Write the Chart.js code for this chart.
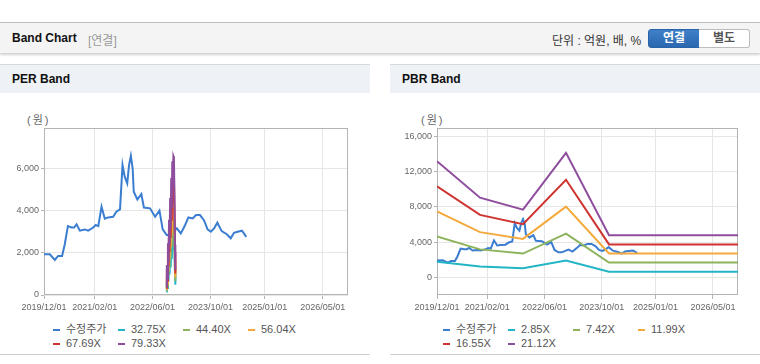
<!DOCTYPE html>
<html lang="ko">
<head>
<meta charset="UTF-8">
<title>Band Chart</title>
<style>
    body { margin: 0; width: 760px; height: 364px; background: #fff; position: relative; overflow: hidden;
           font-family: "Liberation Sans", "Noto Sans CJK KR", sans-serif; }
    .top { position: absolute; left: 0; top: 22px; width: 760px; height: 30px; background: #f4f4f4;
           border-top: 1px solid #bdbdbd; box-shadow: 0 2px 2px rgba(0,0,0,0.18); }
    .ttl { position: absolute; left: 12px; top: 8px; font-size: 12px; font-weight: bold; color: #111; }
    .sub { position: absolute; left: 88px; top: 8px; font-size: 12px; color: #999; }
    .unit { position: absolute; left: 552px; top: 8px; font-size: 12px; color: #333; }
    .btn { position: absolute; top: 6px; height: 17px; width: 50px; font-size: 12px; font-weight: bold;
           text-align: center; line-height: 17px; border: 1px solid #bcbcbc; }
    .btn.on { left: 648px; background: linear-gradient(#3f80c8, #2a68b0); color: #fff; border-color: #2a63a8;
              border-radius: 3px 0 0 3px; }
    .btn.off { left: 699px; background: #fff; color: #555; border-left: none; border-radius: 0 3px 3px 0; }
    .panel { position: absolute; top: 64px; width: 370px; height: 289px; border-top: 1px solid #d8d8d8;
             border-bottom: 1px solid #cfcfcf; }
    .phead { height: 28px; background: #eef1f6; }
    .phead span { position: absolute; left: 12px; top: 7px; font-size: 12px; font-weight: bold; color: #111; }
    .won { position: absolute; top: 111px; font-size: 11px; color: #666; letter-spacing: 2px; }
    .box { position: absolute; top: 92px; }
    .legend { position: absolute; top: 323px; width: 270px; font-size: 11px; color: #555; line-height: 13.5px; }
    .legend div { display: inline-block; width: 65px; white-space: nowrap; }
    .legend i { display: inline-block; width: 7px; height: 2px; margin-right: 6px; vertical-align: middle; }
</style>
</head>
<body>
    <div class="top">
        <span class="ttl">Band Chart</span><span class="sub">[연결]</span>
        <span class="unit">단위 : 억원, 배, %</span>
        <div class="btn on">연결</div><div class="btn off">별도</div>
    </div>

    <div class="panel" style="left:0"><div class="phead"><span>PER Band</span></div></div>
    <div class="panel" style="left:390px"><div class="phead"><span>PBR Band</span></div></div>

    <div class="won" style="left:27px">(원)</div>
    <div class="won" style="left:421px">(원)</div>

    <div class="box" style="left:0"><canvas id="perChart" width="370" height="226"></canvas></div>
    <div class="box" style="left:390px"><canvas id="pbrChart" width="370" height="226"></canvas></div>

    <div class="legend" id="perLegend" style="left:53px"></div>
    <div class="legend" id="pbrLegend" style="left:443px"></div>

<script src="https://cdn.jsdelivr.net/npm/chart.js"></script>
<script>
    // x values are months counted from 2019/12/01
    const tickMonths = [0, 14, 30, 46, 61, 77];
    const tickLabels = ['2019/12/01', '2021/02/01', '2022/06/01', '2023/10/01', '2025/01/01', '2026/05/01'];

    const stockMonths = [0, 1.6, 3, 3.9, 5, 5.7, 6.6, 7.6, 8.3, 9, 9.9, 11.3, 12.2, 13.6, 14.3, 15, 15.9, 16.8,
        17.7, 19.1, 20, 21, 21.7, 22.3, 23, 23.5, 24, 24.5, 24.8, 25.8, 26.9, 27.6, 29.3, 30.7, 31.9, 32.8,
        33.9, 34.8, 35.8, 36.7, 37.8, 39, 39.9, 41.1, 42, 43.1, 44.2, 45.2, 46.1, 47, 47.9, 49.1, 50.5,
        51.6, 52.5, 53.5, 54.7, 55.9];
    const stockPrice = [1927, 1930, 1660, 1850, 1850, 2370, 3270, 3200, 3200, 3350, 3050, 3110, 3050, 3200,
        3320, 3270, 4190, 3620, 3680, 3710, 3950, 4060, 6160, 5610, 5290, 6160, 6600, 6000, 4900, 4530, 4790,
        4150, 4110, 3710, 4000, 3110, 2840, 2840, 3000, 3160, 2920, 3320, 3680, 3630, 3790, 3790, 3550, 3110,
        3000, 3160, 3430, 3030, 2880, 2690, 2950, 3000, 3050, 2760];

    // PER band
    const perNames = ['32.75X', '44.40X', '56.04X', '67.69X', '79.33X'];
    const perMonths = [33.8, 33.95, 34.1, 34.25, 34.4, 34.55, 34.7, 34.85, 35.0, 35.15, 35.3, 35.45, 35.6,
        35.75, 35.9, 36.05, 36.2, 36.3];
    const per1 = [164, 590, 328, 1015, 655, 1474, 983, 1900, 1310, 2293, 1703, 2620, 2129, 2718, 2686, 1965, 983, 491];
    const per2 = [222, 799, 444, 1376, 888, 1998, 1332, 2575, 1776, 3108, 2309, 3552, 2886, 3685, 3641, 2664, 1332, 666];
    const per3 = [280, 1009, 560, 1737, 1121, 2522, 1681, 3250, 2242, 3923, 2914, 4483, 3643, 4651, 4595, 3362, 1681, 841];
    const per4 = [338, 1218, 677, 2098, 1354, 3046, 2031, 3926, 2708, 4738, 3520, 5415, 4400, 5618, 5551, 4061, 2031, 1015];
    const per5 = [397, 1428, 793, 2459, 1587, 3570, 2380, 4601, 3173, 5553, 4125, 6346, 5156, 6584, 6505, 4760, 2380, 1190];

    // PBR band
    const pbrNames = ['2.85X', '7.42X', '11.99X', '16.55X', '21.12X'];
    const pbrMonths = [0, 12, 24, 36, 48, 84];
    const pbr1 = [1778, 1220, 1037, 1907, 644, 644];
    const pbr2 = [4630, 3176, 2701, 4964, 1677, 1677];
    const pbr3 = [7482, 5132, 4364, 8021, 2710, 2710];
    const pbr4 = [10327, 7083, 6024, 11072, 3740, 3740];
    const pbr5 = [13179, 9039, 7688, 14129, 4773, 4773];

    const stockName = '수정주가';
    const colors = ['#3b7dd0', '#22b5c5', '#8db45c', '#f3a93c', '#cf3330', '#8e4d9d'];

    const frame = {
        id: 'frame',
        beforeDatasetsDraw(chart) {
            const a = chart.chartArea, c = chart.ctx;
            c.save();
            c.strokeStyle = '#b4b4b4';
            c.lineWidth = 1;
            c.strokeRect(a.left + 0.5, a.top + 0.5, a.right - a.left - 1, a.bottom - a.top - 1);
            c.restore();
        }
    };

    function pts(xs, ys) {
        return xs.map((x, i) => ({ x: x, y: ys[i] }));
    }

    function line(label, data, color, order) {
        return { label: label, data: data, borderColor: color, backgroundColor: color, borderWidth: 2,
                 pointRadius: 0, tension: 0, order: order };
    }

    function draw(id, bandMonths, bands, names, yTicks, yMin, yMax, yWidth) {
        // stock line at the back, later bands drawn over earlier ones
        const datasets = [line(stockName, pts(stockMonths, stockPrice), colors[0], 10)];
        bands.forEach((b, i) => datasets.push(line(names[i], pts(bandMonths, b), colors[i + 1], 5 - i)));

        new Chart(document.getElementById(id), {
            type: 'line',
            data: { datasets: datasets },
            plugins: [frame],
            options: {
                responsive: false,
                animation: false,
                layout: { padding: { top: 36, right: 22, left: 0, bottom: 0 } },
                plugins: { legend: { display: false }, tooltip: { enabled: false } },
                scales: {
                    x: {
                        type: 'linear', min: 0, max: 84,
                        afterBuildTicks: s => { s.ticks = tickMonths.map(v => ({ value: v })); },
                        afterFit: s => { s.height = 23; },
                        ticks: { callback: (v, i) => tickLabels[i], autoSkip: false, maxRotation: 0, padding: 3,
                                 color: '#666', font: { family: 'Liberation Sans', size: 9 } },
                        grid: { color: '#e6e6e6', tickColor: '#b4b4b4', tickLength: 4 },
                        border: { display: false }
                    },
                    y: {
                        min: yMin, max: yMax,
                        afterBuildTicks: s => { s.ticks = yTicks.map(v => ({ value: v })); },
                        afterFit: s => { s.width = yWidth; },
                        ticks: { callback: v => v.toLocaleString('en-US'), padding: 2,
                                 color: '#666', font: { family: 'Liberation Sans', size: 9 } },
                        grid: { color: '#e6e6e6', tickColor: '#b4b4b4', tickLength: 3 },
                        border: { display: false }
                    }
                }
            }
        });
    }

    function legend(id, names) {
        const all = [stockName].concat(names);
        document.getElementById(id).innerHTML = all.map((n, i) =>
            '<div><i style="background:' + colors[i] + '"></i>' + n + '</div>').join('');
    }

    draw('perChart', perMonths, [per1, per2, per3, per4, per5], perNames, [0, 2000, 4000, 6000], 0, 7920, 44);
    draw('pbrChart', pbrMonths, [pbr1, pbr2, pbr3, pbr4, pbr5], pbrNames, [0, 4000, 8000, 12000, 16000], -2000, 16944, 47);
    legend('perLegend', perNames);
    legend('pbrLegend', pbrNames);
</script>
</body>
</html>
